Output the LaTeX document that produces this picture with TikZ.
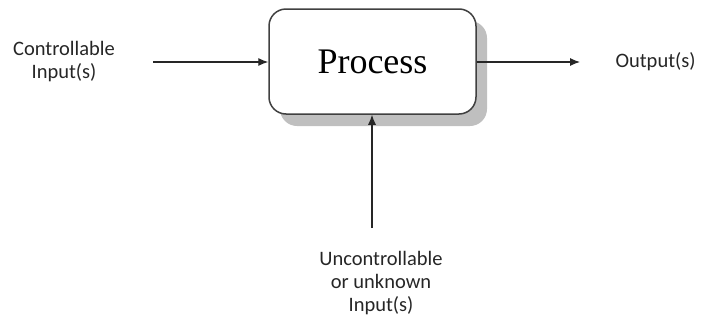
\documentclass[tikz,border=0pt]{standalone}
\usepackage{fontspec}
\setmainfont{Carlito}
\newfontfamily\procfont{Liberation Serif}
\usepackage{tikz}
\usetikzlibrary{arrows.meta,shadows,positioning}

\tikzset{
  procbox/.style={draw=black!75,line width=1.5pt,fill=white,rounded corners=17pt,
    minimum width=207pt,minimum height=105pt,
    drop shadow={shadow xshift=11pt,shadow yshift=-12pt,fill=black!25,opacity=1},
    font=\procfont\fontsize{36}{42}\selectfont},
  lbl/.style={align=center,font=\fontsize{20.5}{23}\selectfont,text=black!85},
  flow/.style={-{Latex[length=10pt,width=8pt]},line width=1.1pt,black!85}
}

\begin{document}
\begin{tikzpicture}[x=1pt,y=-1pt]
		\useasboundingbox (0,0) rectangle (705,327);
		\node[procbox] (proc) at (372.5,61.5) {Process};
		\node[lbl] (cin) at (64,62) {Controllable\\Input(s)};
		\node[lbl,anchor=west] (out) at (612,62) {Output(s)};
		\node[lbl] (uin) at (381,283) {Uncontrollable\\or unknown\\Input(s)};
		\coordinate (cin end) at (153,62);
		\coordinate (out end) at (580,62);
		\coordinate (uin end) at (372,228);
		\draw[flow] (cin end) -- (proc.west |- cin end);
		\draw[flow] (proc.east |- out end) -- (out end);
		\draw[flow] (uin end) -- (uin end |- proc.south);
	\end{tikzpicture}
\end{document}
